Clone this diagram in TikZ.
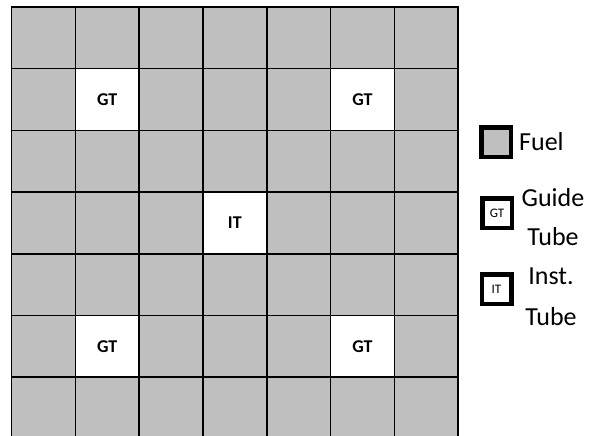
\documentclass[tikz,border=0pt]{standalone}
\usepackage{fontspec}
\setmainfont{Carlito}
\definecolor{fuelgray}{HTML}{BFBFBF}
\begin{document}
\begin{tikzpicture}[x=1pt,y=-1pt,
  cell/.style={draw=black,line width=1.6pt,fill=fuelgray,minimum width=63.8pt,minimum height=61.7pt,inner sep=0pt,outer sep=0pt},
  tube/.style={cell,fill=white,font=\fontsize{18}{20}\selectfont\bfseries},
  legbox/.style={draw=black,line width=4.5pt,fill=#1,minimum size=29.5pt,inner sep=0pt,outer sep=0pt,font=\fontsize{13}{15}\selectfont},
  legtext/.style={font=\fontsize{26}{39}\selectfont,align=center,inner sep=0pt}]
\useasboundingbox (0,0) rectangle (589,436);
\foreach \r in {0,...,6} {
  \foreach \c in {0,...,6} {
    \node[cell] (c\r\c) at ({11.5+63.8*(\c+0.5)},{7+61.7*(\r+0.5)}) {};
  }
}
\node[tube] (gt1) at (c11) {GT};
\node[tube] (gt2) at (c15) {GT};
\node[tube] (gt3) at (c51) {GT};
\node[tube] (gt4) at (c55) {GT};
\node[tube] (it) at (c33) {IT};
% legend
\node[legbox=fuelgray] (lfuel) at (496,142) {};
\node[legtext,anchor=west] (tfuel) at (519,142) {Fuel};
\node[legbox=white] (lgt) at (497,213) {GT};
\node[legtext] (tgt) at (553,217) {Guide\\Tube};
\node[legbox=white] (lit) at (496.5,289) {IT};
\node[legtext,font=\fontsize{26}{41}\selectfont] (tit) at (551,297) {Inst.\\Tube};
\end{tikzpicture}
\end{document}
